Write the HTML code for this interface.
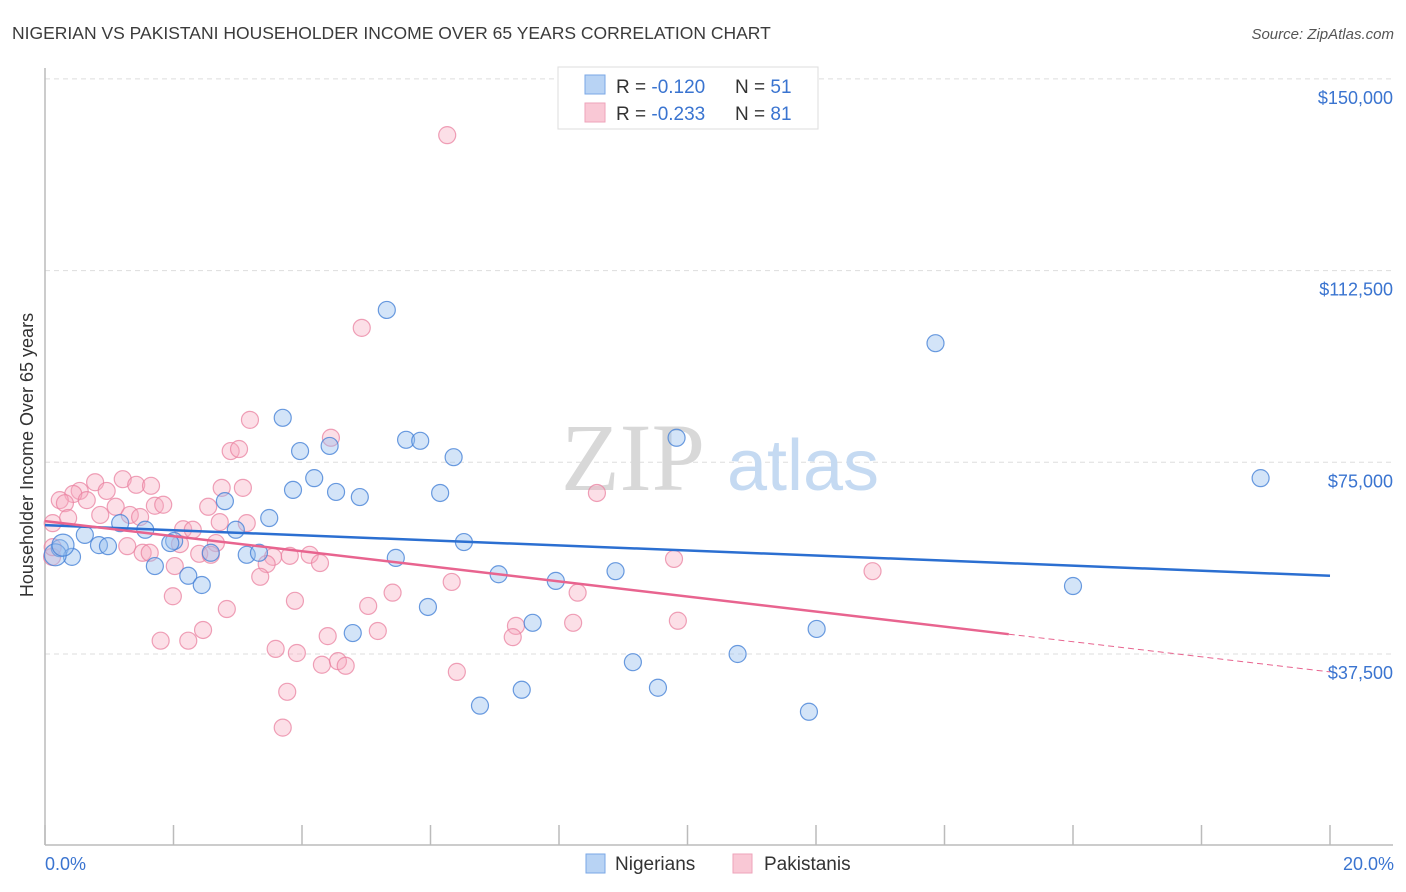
<!DOCTYPE html>
<html><head><meta charset="utf-8">
<style>
body{margin:0;background:#fff;font-family:"Liberation Sans",sans-serif;}
#wrap{position:relative;width:1406px;height:892px;overflow:hidden;}
</style></head>
<body>
<div id="wrap">
<svg id="chart" width="1406" height="892" xmlns="http://www.w3.org/2000/svg">
<text x="12" y="39" font-size="17.5" fill="#3b3b3b">NIGERIAN VS PAKISTANI HOUSEHOLDER INCOME OVER 65 YEARS CORRELATION CHART</text>
<text x="1394" y="39" font-size="15" fill="#555" font-style="italic" text-anchor="end">Source: ZipAtlas.com</text>
<text x="33" y="455" font-size="18" fill="#333" text-anchor="middle" transform="rotate(-90 33 455)">Householder Income Over 65 years</text>
<g id="grid"></g>
<g id="watermark">
<text x="633" y="490" font-size="96" fill="#d8d8d8" font-family="Liberation Serif,serif" text-anchor="middle">ZIP</text>
<text x="803" y="490" font-size="72" fill="#c5daf2" text-anchor="middle">atlas</text>
</g>
<line x1="45" y1="68" x2="45" y2="845" stroke="#bbb" stroke-width="1.5"/>
<line x1="45" y1="845" x2="1393" y2="845" stroke="#bbb" stroke-width="1.5"/>
<g id="xticks"></g>
<g id="points"></g>
<g id="trends"></g>
<text x="45" y="870" font-size="18" fill="#3a74d0">0.0%</text>
<text x="1394" y="870" font-size="18" fill="#3a74d0" text-anchor="end">20.0%</text>
<g>
<rect x="558" y="67" width="260" height="62" fill="#fff" stroke="#ddd"/>
<rect x="585" y="75" width="20" height="19" fill="#b8d3f4" stroke="#7aa7e6"/>
<rect x="585" y="103" width="20" height="19" fill="#f9c8d5" stroke="#eea3ba"/>
<text x="616" y="93" font-size="19" fill="#333">R = <tspan fill="#3a74d0">-0.120</tspan><tspan x="735">N = </tspan><tspan fill="#3a74d0">51</tspan></text>
<text x="616" y="120" font-size="19" fill="#333">R = <tspan fill="#3a74d0">-0.233</tspan><tspan x="735">N = </tspan><tspan fill="#3a74d0">81</tspan></text>
</g>
<g>
<rect x="586" y="854" width="19" height="19" fill="#b8d3f4" stroke="#7aa7e6"/>
<text x="615" y="870" font-size="19" fill="#333">Nigerians</text>
<text x="764" y="870" font-size="19" fill="#333">Pakistanis</text>
<rect x="733" y="854" width="19" height="19" fill="#f9c8d5" stroke="#eea3ba"/>
</g>
</svg>
</div>
<script>
const yTicks=[37500,75000,112500,150000];
const yTickLabels=["$37,500","$75,000","$112,500","$150,000"];
const xTicks=[0,2,4,6,8,10,12,14,16,18,20];
// x in %, y in $thousands
const nigX=[5.32,13.86,3.70,5.62,5.84,9.83,3.97,4.43,6.36,4.19,3.86,4.53,4.90,6.15,2.80,18.92,3.49,1.17,1.56,2.97,0.62,0.84,0.98,2.01,1.95,2.58,3.14,3.33,6.52,5.46,0.23,0.42,1.71,2.23,2.44,7.06,7.95,8.88,16.00,5.96,7.59,4.79,12.01,9.15,10.78,9.54,7.42,6.77,11.89,0.16,0.28];
const nigY=[104.8,98.3,83.7,79.4,79.2,79.8,77.2,78.2,76.0,71.9,69.6,69.2,68.2,69.0,67.4,71.9,64.1,63.1,61.8,61.8,60.8,58.8,58.6,59.6,59.2,57.3,56.9,57.3,59.4,56.3,58.2,56.5,54.7,52.8,51.0,53.1,51.8,53.7,50.8,46.7,43.6,41.6,42.4,35.9,37.5,30.9,30.5,27.4,26.2,56.9,58.8];
const pakX=[6.26,4.93,3.19,2.89,3.02,4.45,1.21,1.42,1.65,0.78,0.54,0.44,0.23,0.31,0.65,0.96,2.75,3.08,2.54,1.71,1.84,1.10,0.36,0.12,0.86,1.32,1.48,2.72,3.14,2.15,2.30,2.66,2.10,1.28,1.52,1.63,2.40,2.58,3.55,3.81,4.12,4.28,3.45,2.02,3.35,1.99,2.83,3.89,5.03,5.41,5.18,4.40,2.46,2.23,1.80,3.59,3.92,4.31,4.56,4.68,3.77,3.70,0.11,0.12,8.59,6.33,7.33,7.28,8.22,8.29,9.79,9.85,12.88,6.41];
const pakY=[139.0,101.3,83.3,77.2,77.6,79.8,71.7,70.6,70.4,71.1,69.4,68.8,67.6,67.0,67.6,69.4,70.0,70.0,66.3,66.5,66.7,66.3,64.1,63.1,64.7,64.7,64.3,63.3,63.1,61.9,61.8,59.2,59.0,58.6,57.3,57.3,57.1,56.9,56.5,56.7,56.9,55.3,55.1,54.7,52.6,48.8,46.3,47.9,46.9,49.5,42.0,41.0,42.2,40.1,40.1,38.5,37.7,35.4,36.1,35.2,30.1,23.1,56.5,58.4,69.0,51.6,43.0,40.8,43.6,49.5,56.1,44.0,53.7,34.0];
const nigTrend=[62.7,52.8];
const pakTrend=[63.5,34.0];
const pakSolidEnd=15.0;

const NS="http://www.w3.org/2000/svg";
function sx(v){return 45+v/20*1285;}
function sy(k){return 845.7-k*1000/37500*191.7;}
function mk(tag,at,parent){const e=document.createElementNS(NS,tag);for(const k in at)e.setAttribute(k,at[k]);parent.appendChild(e);return e;}
const grid=document.getElementById('grid');
yTicks.forEach((t,i)=>{
  const y=sy(t/1000);
  const l=mk('line',{x1:45,x2:1393,y1:y,y2:y,stroke:'#ddd','stroke-dasharray':'5,4'},grid);
  
  
  const tx=mk('text',{x:1393,y:y+25,'font-size':18,fill:'#3a74d0','text-anchor':'end'},grid);
  tx.textContent=yTickLabels[i];
  
  
});
const xt=document.getElementById('xticks');
xTicks.forEach(t=>{
  const l=mk('line',{x1:sx(t),x2:sx(t),y1:825,y2:845,stroke:'#bbb','stroke-width':1.5},xt);
  
  
});
const pts=document.getElementById('points');
pakX.forEach((x,i)=>{
  const c=mk('circle',{cx:sx(x),cy:sy(pakY[i]),r:8.5,fill:'rgba(246,170,193,0.38)',stroke:'rgba(234,130,160,0.75)','stroke-width':1.2},pts);
  
  
});
nigX.forEach((x,i)=>{
  const c=mk('circle',{cx:sx(x),cy:sy(nigY[i]),r:i>=49?11:8.5,fill:'rgba(150,190,238,0.42)',stroke:'rgba(70,130,215,0.8)','stroke-width':1.2},pts);
  
  
});
const tr=document.getElementById('trends');
const nl=mk('line',{x1:sx(0),y1:sy(nigTrend[0]),x2:sx(20),y2:sy(nigTrend[1]),stroke:'#2b6fd1','stroke-width':2.5},tr);


const pm=pakTrend[0]+(pakTrend[1]-pakTrend[0])*pakSolidEnd/20;
const pl=mk('line',{x1:sx(0),y1:sy(pakTrend[0]),x2:sx(pakSolidEnd),y2:sy(pm),stroke:'#e8648f','stroke-width':2.5},tr);


const pd=mk('line',{x1:sx(pakSolidEnd),y1:sy(pm),x2:sx(20),y2:sy(pakTrend[1]),stroke:'#e8648f','stroke-width':1,'stroke-dasharray':'6,4'},tr);


</script>
</body></html>
